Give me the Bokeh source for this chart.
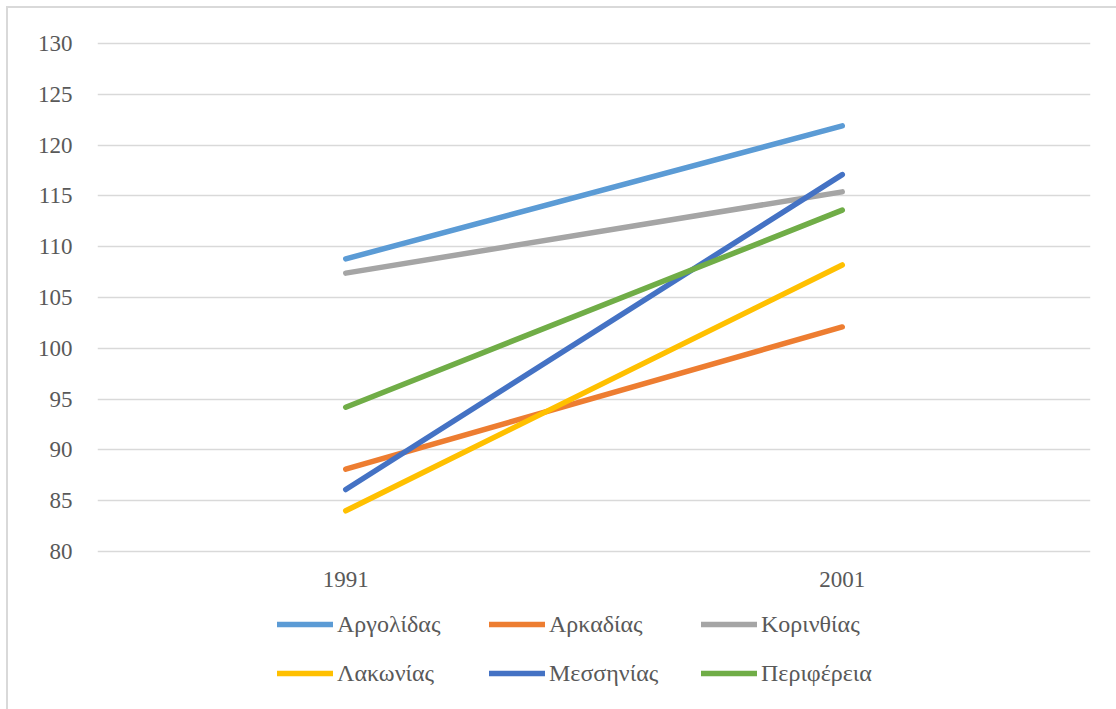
from bokeh.plotting import figure
from bokeh.layouts import column
from bokeh.models import FactorRange, Range1d, FixedTicker, Legend, LegendItem
from bokeh.embed import file_html
from bokeh.resources import INLINE

years = ["1991", "2001"]
series_names = ["Αργολίδας", "Αρκαδίας", "Κορινθίας", "Λακωνίας", "Μεσσηνίας", "Περιφέρεια"]
argolida = [108.8, 121.9]
arkadia = [88.1, 102.1]
korinthia = [107.4, 115.4]
lakonia = [84.0, 108.2]
messinia = [86.1, 117.1]
perifereia = [94.2, 113.6]
series_values = [argolida, arkadia, korinthia, lakonia, messinia, perifereia]
colors = ["#5B9BD5", "#ED7D31", "#A5A5A5", "#FFC000", "#4472C4", "#70AD47"]
y_ticks = [80, 85, 90, 95, 100, 105, 110, 115, 120, 125, 130]

FONT = "Liberation Serif"
TXT = "#595959"
W = 1108

p = figure(x_range=FactorRange(*years), y_range=Range1d(79.8, 130.2),
           width=W, height=600, output_backend="svg", toolbar_location=None,
           min_border_left=89, min_border_right=26, min_border_top=33, min_border_bottom=55)
p.outline_line_color = None
p.background_fill_color = "white"
p.border_fill_color = "white"

p.xgrid.grid_line_color = None
p.ygrid.grid_line_color = "#D9D9D9"
p.ygrid.grid_line_width = 1.5
p.yaxis.ticker = FixedTicker(ticks=y_ticks)

for ax in (p.xaxis[0], p.yaxis[0]):
    ax.axis_line_color = None
    ax.major_tick_line_color = None
    ax.minor_tick_line_color = None
    ax.major_label_text_font = FONT
    ax.major_label_text_font_size = "23px"
    ax.major_label_text_color = TXT
p.yaxis.major_label_standoff = 19
p.xaxis.major_label_standoff = 12

for name, vals, col in zip(series_names, series_values, colors):
    p.line(years, vals, line_color=col, line_width=5.5, line_cap="round", line_join="round")

# legend panel below the chart (its frame is aligned with the chart's frame by the column)
lg = figure(width=W, height=101, output_backend="svg", toolbar_location=None,
            x_axis_location=None, y_axis_location=None,
            x_range=Range1d(0, 1), y_range=Range1d(0, 1),
            min_border_left=89, min_border_right=26, min_border_top=0, min_border_bottom=0)
lg.outline_line_color = None
lg.grid.visible = False
items = {}
for name, vals, col in zip(series_names, series_values, colors):
    # proxy lines for the legend keys; the values lie outside this panel's 0..1 range
    r = lg.line([0, 1], vals, line_color=col, line_width=5.5, line_cap="round")
    items[name] = LegendItem(label=name, renderers=[r])

order = [0, 3, 1, 4, 2, 5]  # column-major fill -> reads row by row
legend = Legend(items=[items[series_names[i]] for i in order], ncols=3, location=(180, 21),
                label_text_font=FONT, label_text_font_size="24px", label_text_color=TXT,
                glyph_width=56, glyph_height=30, label_height=30, label_width=133,
                label_standoff=4, spacing=19, padding=0, margin=0,
                border_line_color=None, background_fill_alpha=0)
lg.add_layout(legend, "center")

layout = column(p, lg, spacing=0,
                styles={"margin-left": "6px", "margin-top": "6px",
                        "border-left": "2px solid #d9d9d9", "border-top": "2px solid #d9d9d9"})

open("out.html", "w").write(file_html(layout, INLINE))
